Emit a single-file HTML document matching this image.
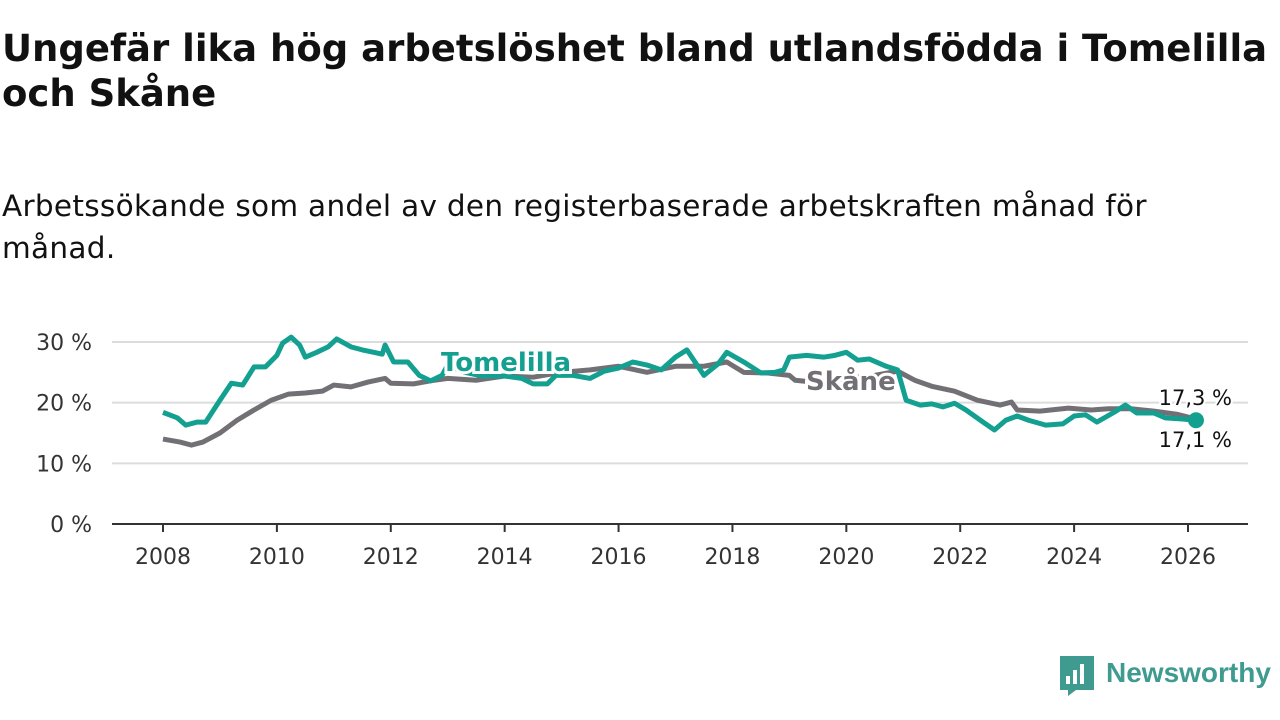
<!DOCTYPE html>
<html><head><meta charset="utf-8">
<style>
body{margin:0;width:1280px;height:720px;background:#fff;font-family:"Liberation Sans","DejaVu Sans",sans-serif;overflow:hidden;position:relative;color:#111}
h1{position:absolute;left:2px;top:26px;margin:0;font-size:37px;line-height:45px;font-weight:bold;width:1275px;font-family:"DejaVu Sans","Liberation Sans",sans-serif;letter-spacing:0px}
.sub{position:absolute;left:2px;top:185px;font-size:29.5px;line-height:42px;font-family:"DejaVu Sans","Liberation Sans",sans-serif;width:1180px;letter-spacing:0.3px}
svg{position:absolute;left:0;top:0}
</style></head><body>
<h1>Ungefär lika hög arbetslöshet bland utlandsfödda i Tomelilla och Skåne</h1>
<div class="sub">Arbetssökande som andel av den registerbaserade arbetskraften månad för månad.</div>
<svg id="c" width="1280" height="720"></svg>
<script>
const yTicks=[0,10,20,30];
const xTicks=[2008,2010,2012,2014,2016,2018,2020,2022,2024,2026];
const tomYears=[2008.0,2008.25,2008.4,2008.6,2008.75,2009.0,2009.2,2009.4,2009.6,2009.8,2010.0,2010.1,2010.25,2010.4,2010.5,2010.7,2010.9,2011.05,2011.3,2011.5,2011.7,2011.85,2011.9,2012.05,2012.3,2012.5,2012.7,2012.9,2013.0,2013.3,2013.6,2014.0,2014.3,2014.5,2014.75,2014.9,2015.2,2015.5,2015.75,2016.0,2016.25,2016.5,2016.75,2017.0,2017.2,2017.5,2017.75,2017.9,2018.2,2018.5,2018.75,2018.9,2019.0,2019.3,2019.6,2019.8,2020.0,2020.2,2020.4,2020.7,2020.9,2021.05,2021.3,2021.5,2021.7,2021.9,2022.1,2022.4,2022.6,2022.8,2023.0,2023.2,2023.5,2023.8,2024.0,2024.2,2024.4,2024.7,2024.9,2025.1,2025.4,2025.6,2025.9,2026.14];
const tomValues=[18.4,17.5,16.3,16.8,16.8,20.4,23.2,22.9,25.9,25.9,27.8,29.8,30.8,29.5,27.5,28.3,29.2,30.5,29.2,28.7,28.3,28.0,29.5,26.7,26.7,24.5,23.6,24.5,26.2,25.0,24.4,24.4,24.0,23.1,23.1,24.5,24.5,24.0,25.2,25.7,26.7,26.2,25.4,27.5,28.7,24.5,26.4,28.3,26.7,24.9,25.0,25.4,27.5,27.8,27.5,27.8,28.3,27.0,27.2,26.0,25.4,20.4,19.6,19.8,19.3,19.9,18.8,16.8,15.5,17.1,17.8,17.1,16.3,16.5,17.8,18.0,16.8,18.4,19.6,18.3,18.3,17.5,17.3,17.1];
const skYears=[2008.0,2008.3,2008.5,2008.7,2009.0,2009.3,2009.6,2009.9,2010.2,2010.5,2010.8,2011.0,2011.3,2011.6,2011.9,2012.0,2012.4,2012.7,2013.0,2013.5,2014.0,2014.5,2015.0,2015.5,2016.0,2016.5,2017.0,2017.5,2017.9,2018.2,2018.6,2019.0,2019.1,2019.4,2020.0,2020.5,2020.9,2021.2,2021.5,2021.9,2022.3,2022.7,2022.9,2023.0,2023.4,2023.9,2024.3,2024.6,2025.0,2025.4,2025.8,2026.14];
const skValues=[14.0,13.5,13.0,13.5,15.0,17.1,18.8,20.4,21.4,21.6,21.9,22.9,22.6,23.4,24.0,23.2,23.1,23.6,24.0,23.7,24.4,24.2,25.0,25.4,26.0,25.0,26.0,26.0,26.7,25.0,24.9,24.5,23.7,23.4,24.0,24.5,25.2,23.7,22.7,21.9,20.4,19.6,20.1,18.8,18.6,19.1,18.8,19.0,19.0,18.6,18.1,17.3];
const NS="http://www.w3.org/2000/svg";
const svg=document.getElementById('c');
const X=v=>163+(v-2008)*(1188-163)/18;
const Y=v=>524-v*(524-342)/30;
function mk(t,a,p){const e=document.createElementNS(NS,t);for(const k in a)e.setAttribute(k,a[k]);(p||svg).appendChild(e);return e;}
yTicks.forEach(v=>{
  if(v>0){const l=mk('line',{x1:112,x2:1248,y1:Y(v),y2:Y(v),stroke:'#dcdcdc','stroke-width':2});
  
  }
  const t=mk('text',{x:92,y:Y(v)+8,'text-anchor':'end','font-size':22,fill:'#333','font-family':'DejaVu Sans, sans-serif'});
  t.textContent=v+' %';
  
  
});
const ax=mk('line',{x1:112,x2:1248,y1:524,y2:524,stroke:'#333','stroke-width':2});


xTicks.forEach(v=>{
  mk('line',{x1:X(v),x2:X(v),y1:524,y2:532,stroke:'#333','stroke-width':2});
  const t=mk('text',{x:X(v),y:564,'text-anchor':'middle','font-size':22,fill:'#333','font-family':'DejaVu Sans, sans-serif'});
  t.textContent=v;
  
  
});
function line(xs,ys,col,name){
  const p=mk('polyline',{points:xs.map((x,i)=>X(x)+','+Y(ys[i])).join(' '),fill:'none',stroke:col,'stroke-width':5,'stroke-linejoin':'round'});
  
  
}
line(skYears,skValues,'#727075','skane-line');
line(tomYears,tomValues,'#14a090','tomelilla-line');
function lbl(x,y,txt,col,name,size,anchor,bold){
  const t=mk('text',{x:x,y:y,'font-size':size,fill:col,'font-weight':bold?'bold':'normal','text-anchor':anchor,stroke:'#fff','stroke-width':bold?6:4,'paint-order':'stroke','font-family':'DejaVu Sans, sans-serif'});
  t.textContent=txt;
  
  
}
lbl(441,371,'Tomelilla','#14a090','tomelilla-label',26,'start',true);
lbl(806,390,'Skåne','#727075','skane-label',26,'start',true);
const d=mk('circle',{cx:X(tomYears[tomYears.length-1]),cy:Y(tomValues[tomValues.length-1]),r:8,fill:'#14a090'});


lbl(1232,405,'17,3 %','#111','skane-end-value',21,'end',false);
lbl(1232,447,'17,1 %','#111','tomelilla-end-value',21,'end',false);
</script>
<svg width="1280" height="720" style="position:absolute;left:0;top:0;pointer-events:none">
<path d="M1060 656 h34 v34 h-18 l-8 6 v-6 h-8 z" fill="#3f9a8f"/>
<rect x="1066" y="676" width="4" height="8" fill="#fff"/><rect x="1073" y="670" width="4" height="14" fill="#fff"/><rect x="1080" y="664" width="4" height="20" fill="#fff"/>
<text x="1106" y="682" font-size="28" font-weight="bold" fill="#3f9a8f" font-family="Liberation Sans, sans-serif">Newsworthy</text>
</svg>
</body></html>
